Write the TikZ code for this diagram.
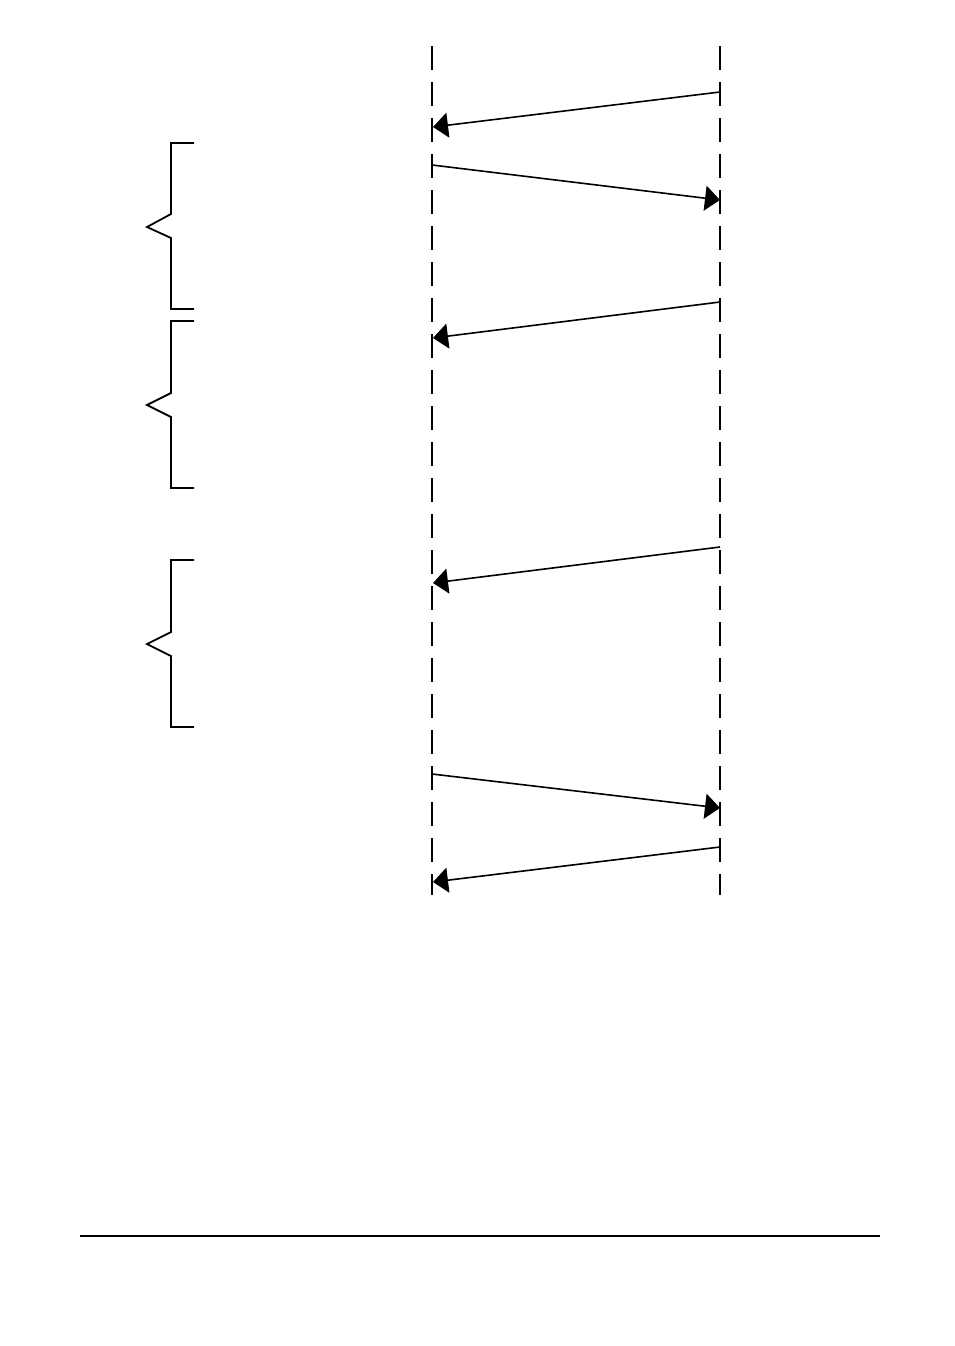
\documentclass[tikz,border=0pt]{standalone}
\usetikzlibrary{arrows.meta}
\begin{document}
\begin{tikzpicture}[x=1pt,y=-1pt,
  lifeline/.style={line width=1.8pt,dash pattern=on 24pt off 12pt},
  msg/.style={line width=1.6pt,-{Triangle[length=15pt,width=25pt]}},
  bracket/.style={line width=1.8pt,line join=miter},
  rule/.style={line width=1.3pt}]
\useasboundingbox (0,0) rectangle (954,1346);
% lifelines
\coordinate (Ltop) at (432,46);
\coordinate (Lbot) at (432,895);
\coordinate (Rtop) at (720,46);
\coordinate (Rbot) at (720,895);
\draw[lifeline] (Ltop) -- (Lbot);
\draw[lifeline] (Rtop) -- (Rbot);
% messages
\coordinate (r1) at (720,92);  \coordinate (l1) at (433,127);
\coordinate (l2) at (432,165); \coordinate (r2) at (720,200);
\coordinate (r3) at (720,302); \coordinate (l3) at (433,338);
\coordinate (r4) at (720,547); \coordinate (l4) at (433,583);
\coordinate (l5) at (432,774); \coordinate (r5) at (720,808);
\coordinate (r6) at (720,847); \coordinate (l6) at (433,882);
\draw[msg] (r1) -- (l1);
\draw[msg] (l2) -- (r2);
\draw[msg] (r3) -- (l3);
\draw[msg] (r4) -- (l4);
\draw[msg] (l5) -- (r5);
\draw[msg] (r6) -- (l6);
% braces
\draw[bracket] (194,143) -- (171,143) -- (171,214) -- (147,227) -- (171,238) -- (171,309) -- (194,309);
\draw[bracket] (194,321) -- (171,321) -- (171,393) -- (147,405) -- (171,417) -- (171,488) -- (194,488);
\draw[bracket] (194,560) -- (171,560) -- (171,632) -- (147,644) -- (171,656) -- (171,727) -- (194,727);
% bottom rule
\coordinate (hl) at (80,1236);
\coordinate (hr) at (880,1236);
\draw[rule] (hl) -- (hr);
\end{tikzpicture}
\end{document}
